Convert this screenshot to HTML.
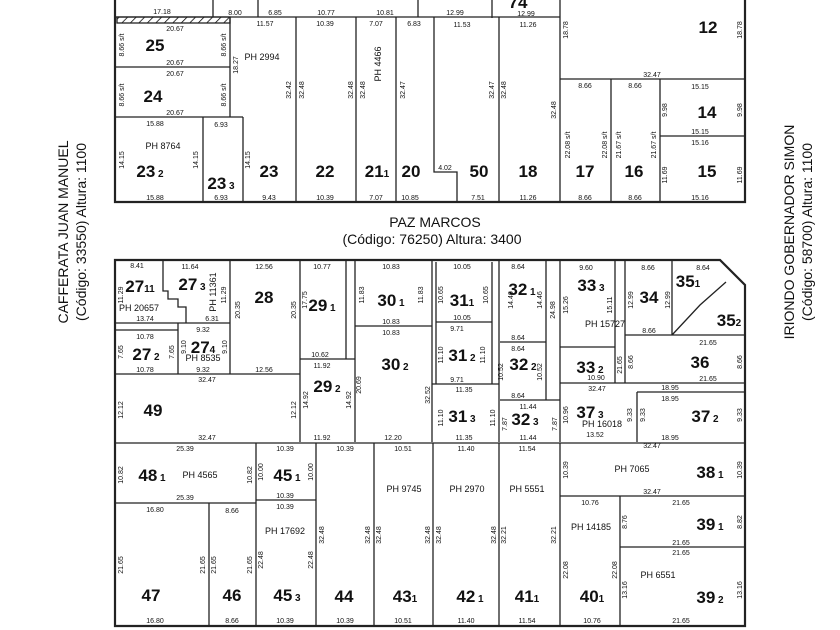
<!DOCTYPE html>
<html><head><meta charset="utf-8"><style>
html,body{margin:0;padding:0;background:#fff;}
svg{display:block;font-family:"Liberation Sans Narrow","Liberation Sans",sans-serif;}
.b{font-size:17px;font-weight:bold;text-anchor:middle;}
.p{font-size:9px;text-anchor:middle;}
.d{font-size:7px;text-anchor:middle;}
.s{font-size:14px;text-anchor:middle;}
</style></head><body>
<svg width="840" height="630" viewBox="0 0 840 630" xmlns="http://www.w3.org/2000/svg">
<defs><pattern id="h" width="6" height="6" patternUnits="userSpaceOnUse" patternTransform="rotate(45)"><line x1="0" y1="0" x2="0" y2="6" stroke="#000" stroke-width="1.5"/></pattern></defs>
<g stroke="#222" stroke-width="1.3" fill="none">
<path d="M115 0V202H745V0" stroke-width="2.2"/>
<path d="M115 17H560M213 0V17M258 0V17M418 0V17M492 0V18M560 0V202"/>
<rect x="117" y="17" width="113" height="6" fill="url(#h)" stroke="#222"/>
<path d="M115 67H230M115 117H243M230 17V117M203 117V202M243 117V202M296 17V202M356 17V202M396 17V202M434 17V172H457V202M499 17V202"/>
<path d="M560 79H745M611 79V202M660 79V202M660 136H745"/>
<path d="M115 260H720L745 285V626H115Z" stroke-width="2.2"/>
<path d="M163 260V291H168V299H178V307H186V323M115 323H230M230 260V374M115 330H178M178 323V374M115 374H300M300 260V442M346 260V359M300 359H355M355 260V442M355 326H432M432 260V442"/>
<path d="M436 262V322H492M436 322V384M432 384H499M492 262V384M499 260V442M500 342H546M500 400H560M546 260V400M560 260V442"/>
<path d="M560 347H615V262M615 260V383M625 260V383M560 383H745M625 335H745M672 260V335M672 335L700 305L726 282M637 392H745M637 392V442"/>
<path d="M115 443H745M256 443V626M115 503H256M256 500H316M209 503V626M316 443V626M374 443V626M433 443V626M499 443V626M560 443V626M560 496H745M620 496V626M620 547H745"/>
</g>
<g fill="#111">
<text class="s" x="435" y="227">PAZ MARCOS</text>
<text class="s" x="432" y="244">(Código: 76250) Altura: 3400</text>
<text class="s" transform="translate(68,232) rotate(-90)">CAFFERATA JUAN MANUEL</text>
<text class="s" transform="translate(86,232) rotate(-90)">(Código: 33550) Altura: 1100</text>
<text class="s" transform="translate(794,232) rotate(-90)">IRIONDO GOBERNADOR SIMON</text>
<text class="s" transform="translate(812,232) rotate(-90)">(Código: 58700) Altura: 1100</text>
<text class="b" x="155" y="51">25</text><text class="b" x="153" y="102">24</text>
<text class="b" x="150" y="177">23<tspan font-size="10"> 2</tspan></text>
<text class="b" x="221" y="189">23<tspan font-size="10"> 3</tspan></text>
<text class="b" x="269" y="177">23</text><text class="b" x="325" y="177">22</text>
<text class="b" x="377" y="177">21<tspan font-size="10">1</tspan></text>
<text class="b" x="411" y="177">20</text><text class="b" x="479" y="177">50</text>
<text class="b" x="528" y="177">18</text><text class="b" x="708" y="33">12</text>
<text class="b" x="707" y="118">14</text><text class="b" x="707" y="177">15</text>
<text class="b" x="585" y="177">17</text><text class="b" x="634" y="177">16</text>
<text class="b" x="518" y="8">74</text>
<text class="p" x="262" y="60">PH 2994</text><text class="p" x="163" y="149">PH 8764</text>
<text class="p" transform="translate(381,64) rotate(-90)">PH 4466</text>
<text class="d" x="162" y="14">17.18</text><text class="d" x="235" y="15">8.00</text><text class="d" x="275" y="15">6.85</text><text class="d" x="326" y="15">10.77</text><text class="d" x="385" y="15">10.81</text><text class="d" x="455" y="15">12.99</text><text class="d" x="526" y="16">12.99</text>
<text class="d" x="175" y="31">20.67</text><text class="d" x="175" y="65">20.67</text><text class="d" x="175" y="76">20.67</text><text class="d" x="175" y="115">20.67</text>
<text class="d" x="265" y="26">11.57</text><text class="d" x="325" y="26">10.39</text><text class="d" x="376" y="26">7.07</text><text class="d" x="414" y="26">6.83</text><text class="d" x="462" y="27">11.53</text><text class="d" x="528" y="27">11.26</text>
<text class="d" x="155" y="126">15.88</text><text class="d" x="155" y="200">15.88</text><text class="d" x="221" y="127">6.93</text><text class="d" x="221" y="200">6.93</text>
<text class="d" x="269" y="200">9.43</text><text class="d" x="325" y="200">10.39</text><text class="d" x="376" y="200">7.07</text><text class="d" x="410" y="200">10.85</text><text class="d" x="478" y="200">7.51</text><text class="d" x="528" y="200">11.26</text>
<text class="d" x="652" y="77">32.47</text><text class="d" x="585" y="88">8.66</text><text class="d" x="635" y="88">8.66</text><text class="d" x="700" y="89">15.15</text><text class="d" x="700" y="134">15.15</text><text class="d" x="700" y="145">15.16</text><text class="d" x="585" y="200">8.66</text><text class="d" x="635" y="200">8.66</text><text class="d" x="700" y="200">15.16</text>
<text class="d" x="445" y="170">4.02</text>
<text class="d" transform="translate(291,90) rotate(-90)">32.42</text><text class="d" transform="translate(304,90) rotate(-90)">32.48</text><text class="d" transform="translate(353,90) rotate(-90)">32.48</text><text class="d" transform="translate(365,90) rotate(-90)">32.48</text><text class="d" transform="translate(405,90) rotate(-90)">32.47</text><text class="d" transform="translate(494,90) rotate(-90)">32.47</text><text class="d" transform="translate(506,90) rotate(-90)">32.48</text><text class="d" transform="translate(556,110) rotate(-90)">32.48</text>
<text class="d" transform="translate(124,45) rotate(-90)">8.66 s/t</text><text class="d" transform="translate(226,45) rotate(-90)">8.66 s/t</text><text class="d" transform="translate(124,95) rotate(-90)">8.66 s/t</text><text class="d" transform="translate(226,95) rotate(-90)">8.66 s/t</text><text class="d" transform="translate(238,65) rotate(-90)">18.27</text>
<text class="d" transform="translate(124,160) rotate(-90)">14.15</text><text class="d" transform="translate(198,160) rotate(-90)">14.15</text><text class="d" transform="translate(250,160) rotate(-90)">14.15</text>
<text class="d" transform="translate(568,30) rotate(-90)">18.78</text><text class="d" transform="translate(742,30) rotate(-90)">18.78</text><text class="d" transform="translate(570,145) rotate(-90)">22.08 s/t</text><text class="d" transform="translate(607,145) rotate(-90)">22.08 s/t</text><text class="d" transform="translate(621,145) rotate(-90)">21.67 s/t</text><text class="d" transform="translate(656,145) rotate(-90)">21.67 s/t</text>
<text class="d" transform="translate(667,110) rotate(-90)">9.98</text><text class="d" transform="translate(742,110) rotate(-90)">9.98</text><text class="d" transform="translate(667,175) rotate(-90)">11.69</text><text class="d" transform="translate(742,175) rotate(-90)">11.69</text>
<text class="b" x="140" y="292">27<tspan font-size="10">11</tspan></text>
<text class="b" x="192" y="290">27<tspan font-size="10"> 3</tspan></text>
<text class="b" x="264" y="303">28</text>
<text class="b" x="322" y="311">29<tspan font-size="10"> 1</tspan></text>
<text class="b" x="391" y="306">30<tspan font-size="10"> 1</tspan></text>
<text class="b" x="462" y="306">31<tspan font-size="10">1</tspan></text>
<text class="b" x="522" y="295">32<tspan font-size="10"> 1</tspan></text>
<text class="b" x="591" y="291">33<tspan font-size="10"> 3</tspan></text>
<text class="b" x="649" y="303">34</text>
<text class="b" x="688" y="287">35<tspan font-size="10">1</tspan></text>
<text class="b" x="729" y="326">35<tspan font-size="10">2</tspan></text>
<text class="b" x="146" y="360">27<tspan font-size="10"> 2</tspan></text>
<text class="b" x="203" y="353">27<tspan font-size="10">4</tspan></text>
<text class="b" x="327" y="392">29<tspan font-size="10"> 2</tspan></text>
<text class="b" x="395" y="370">30<tspan font-size="10"> 2</tspan></text>
<text class="b" x="462" y="361">31<tspan font-size="10"> 2</tspan></text>
<text class="b" x="523" y="370">32<tspan font-size="10"> 2</tspan></text>
<text class="b" x="590" y="373">33<tspan font-size="10"> 2</tspan></text>
<text class="b" x="700" y="368">36</text>
<text class="b" x="153" y="416">49</text>
<text class="b" x="462" y="422">31<tspan font-size="10"> 3</tspan></text>
<text class="b" x="525" y="425">32<tspan font-size="10"> 3</tspan></text>
<text class="b" x="590" y="418">37<tspan font-size="10"> 3</tspan></text>
<text class="b" x="705" y="422">37<tspan font-size="10"> 2</tspan></text>
<text class="b" x="152" y="481">48<tspan font-size="10"> 1</tspan></text>
<text class="b" x="287" y="481">45<tspan font-size="10"> 1</tspan></text>
<text class="b" x="710" y="478">38<tspan font-size="10"> 1</tspan></text>
<text class="b" x="710" y="530">39<tspan font-size="10"> 1</tspan></text>
<text class="b" x="151" y="601">47</text><text class="b" x="232" y="601">46</text>
<text class="b" x="287" y="601">45<tspan font-size="10"> 3</tspan></text>
<text class="b" x="344" y="602">44</text>
<text class="b" x="405" y="602">43<tspan font-size="10">1</tspan></text>
<text class="b" x="470" y="602">42<tspan font-size="10"> 1</tspan></text>
<text class="b" x="527" y="602">41<tspan font-size="10">1</tspan></text>
<text class="b" x="592" y="602">40<tspan font-size="10">1</tspan></text>
<text class="b" x="710" y="603">39<tspan font-size="10"> 2</tspan></text>
<text class="p" x="139" y="311">PH 20657</text><text class="p" transform="translate(216,292) rotate(-90)">PH 11361</text><text class="p" x="203" y="361">PH 8535</text>
<text class="p" x="605" y="327">PH 15727</text><text class="p" x="602" y="427">PH 16018</text><text class="p" x="200" y="478">PH 4565</text>
<text class="p" x="404" y="492">PH 9745</text><text class="p" x="467" y="492">PH 2970</text><text class="p" x="527" y="492">PH 5551</text><text class="p" x="632" y="472">PH 7065</text>
<text class="p" x="285" y="534">PH 17692</text><text class="p" x="591" y="530">PH 14185</text><text class="p" x="658" y="578">PH 6551</text>
<text class="d" x="137" y="268">8.41</text><text class="d" x="190" y="269">11.64</text><text class="d" x="264" y="269">12.56</text><text class="d" x="322" y="269">10.77</text><text class="d" x="391" y="269">10.83</text><text class="d" x="462" y="269">10.05</text><text class="d" x="518" y="269">8.64</text><text class="d" x="586" y="270">9.60</text><text class="d" x="648" y="270">8.66</text><text class="d" x="703" y="270">8.64</text>
<text class="d" x="145" y="321">13.74</text><text class="d" x="212" y="321">6.31</text><text class="d" x="145" y="339">10.78</text><text class="d" x="145" y="372">10.78</text><text class="d" x="203" y="332">9.32</text><text class="d" x="203" y="372">9.32</text><text class="d" x="264" y="372">12.56</text>
<text class="d" x="320" y="357">10.62</text><text class="d" x="322" y="368">11.92</text><text class="d" x="391" y="324">10.83</text><text class="d" x="391" y="335">10.83</text><text class="d" x="462" y="320">10.05</text><text class="d" x="457" y="331">9.71</text><text class="d" x="457" y="382">9.71</text><text class="d" x="518" y="340">8.64</text><text class="d" x="518" y="351">8.64</text><text class="d" x="518" y="398">8.64</text>
<text class="d" x="708" y="345">21.65</text><text class="d" x="708" y="381">21.65</text><text class="d" x="649" y="333">8.66</text><text class="d" x="596" y="380">10.90</text>
<text class="d" x="207" y="382">32.47</text><text class="d" x="207" y="440">32.47</text><text class="d" x="322" y="440">11.92</text><text class="d" x="393" y="440">12.20</text><text class="d" x="464" y="392">11.35</text><text class="d" x="464" y="440">11.35</text><text class="d" x="528" y="409">11.44</text><text class="d" x="528" y="440">11.44</text>
<text class="d" x="597" y="391">32.47</text><text class="d" x="670" y="390">18.95</text><text class="d" x="670" y="401">18.95</text><text class="d" x="670" y="440">18.95</text><text class="d" x="595" y="437">13.52</text>
<text class="d" x="185" y="451">25.39</text><text class="d" x="185" y="500">25.39</text><text class="d" x="285" y="451">10.39</text><text class="d" x="285" y="498">10.39</text><text class="d" x="285" y="509">10.39</text><text class="d" x="345" y="451">10.39</text><text class="d" x="403" y="451">10.51</text><text class="d" x="466" y="451">11.40</text><text class="d" x="527" y="451">11.54</text><text class="d" x="652" y="448">32.47</text><text class="d" x="652" y="494">32.47</text>
<text class="d" x="155" y="512">16.80</text><text class="d" x="232" y="513">8.66</text><text class="d" x="590" y="505">10.76</text><text class="d" x="681" y="505">21.65</text><text class="d" x="681" y="545">21.65</text><text class="d" x="681" y="555">21.65</text>
<text class="d" x="155" y="623">16.80</text><text class="d" x="232" y="623">8.66</text><text class="d" x="285" y="623">10.39</text><text class="d" x="345" y="623">10.39</text><text class="d" x="403" y="623">10.51</text><text class="d" x="466" y="623">11.40</text><text class="d" x="527" y="623">11.54</text><text class="d" x="592" y="623">10.76</text><text class="d" x="681" y="623">21.65</text>
<text class="d" transform="translate(123,295) rotate(-90)">11.29</text><text class="d" transform="translate(226,295) rotate(-90)">11.29</text><text class="d" transform="translate(123,352) rotate(-90)">7.65</text><text class="d" transform="translate(174,352) rotate(-90)">7.65</text><text class="d" transform="translate(186,347) rotate(-90)">9.10</text><text class="d" transform="translate(227,347) rotate(-90)">9.10</text>
<text class="d" transform="translate(240,310) rotate(-90)">20.35</text><text class="d" transform="translate(296,310) rotate(-90)">20.35</text><text class="d" transform="translate(307,300) rotate(-90)">17.75</text><text class="d" transform="translate(364,295) rotate(-90)">11.83</text><text class="d" transform="translate(423,295) rotate(-90)">11.83</text><text class="d" transform="translate(361,385) rotate(-90)">20.69</text><text class="d" transform="translate(430,395) rotate(-90)">32.52</text>
<text class="d" transform="translate(308,400) rotate(-90)">14.92</text><text class="d" transform="translate(351,400) rotate(-90)">14.92</text><text class="d" transform="translate(123,410) rotate(-90)">12.12</text><text class="d" transform="translate(296,410) rotate(-90)">12.12</text>
<text class="d" transform="translate(443,295) rotate(-90)">10.65</text><text class="d" transform="translate(488,295) rotate(-90)">10.65</text><text class="d" transform="translate(443,355) rotate(-90)">11.10</text><text class="d" transform="translate(485,355) rotate(-90)">11.10</text><text class="d" transform="translate(443,418) rotate(-90)">11.10</text><text class="d" transform="translate(495,418) rotate(-90)">11.10</text>
<text class="d" transform="translate(513,300) rotate(-90)">14.46</text><text class="d" transform="translate(542,300) rotate(-90)">14.46</text><text class="d" transform="translate(503,372) rotate(-90)">10.52</text><text class="d" transform="translate(542,372) rotate(-90)">10.52</text><text class="d" transform="translate(507,424) rotate(-90)">7.87</text><text class="d" transform="translate(557,424) rotate(-90)">7.87</text><text class="d" transform="translate(555,310) rotate(-90)">24.98</text>
<text class="d" transform="translate(568,305) rotate(-90)">15.26</text><text class="d" transform="translate(612,305) rotate(-90)">15.11</text><text class="d" transform="translate(633,300) rotate(-90)">12.99</text><text class="d" transform="translate(670,300) rotate(-90)">12.99</text><text class="d" transform="translate(633,362) rotate(-90)">8.66</text><text class="d" transform="translate(742,362) rotate(-90)">8.66</text><text class="d" transform="translate(622,365) rotate(-90)">21.65</text>
<text class="d" transform="translate(568,415) rotate(-90)">10.96</text><text class="d" transform="translate(632,415) rotate(-90)">9.33</text><text class="d" transform="translate(645,415) rotate(-90)">9.33</text><text class="d" transform="translate(742,415) rotate(-90)">9.33</text>
<text class="d" transform="translate(123,475) rotate(-90)">10.82</text><text class="d" transform="translate(252,475) rotate(-90)">10.82</text><text class="d" transform="translate(263,472) rotate(-90)">10.00</text><text class="d" transform="translate(313,472) rotate(-90)">10.00</text><text class="d" transform="translate(568,470) rotate(-90)">10.39</text><text class="d" transform="translate(742,470) rotate(-90)">10.39</text>
<text class="d" transform="translate(123,565) rotate(-90)">21.65</text><text class="d" transform="translate(205,565) rotate(-90)">21.65</text><text class="d" transform="translate(216,565) rotate(-90)">21.65</text><text class="d" transform="translate(252,565) rotate(-90)">21.65</text><text class="d" transform="translate(263,560) rotate(-90)">22.48</text><text class="d" transform="translate(313,560) rotate(-90)">22.48</text>
<text class="d" transform="translate(324,535) rotate(-90)">32.48</text><text class="d" transform="translate(370,535) rotate(-90)">32.48</text><text class="d" transform="translate(381,535) rotate(-90)">32.48</text><text class="d" transform="translate(430,535) rotate(-90)">32.48</text><text class="d" transform="translate(441,535) rotate(-90)">32.48</text><text class="d" transform="translate(496,535) rotate(-90)">32.48</text><text class="d" transform="translate(506,535) rotate(-90)">32.21</text><text class="d" transform="translate(556,535) rotate(-90)">32.21</text>
<text class="d" transform="translate(568,570) rotate(-90)">22.08</text><text class="d" transform="translate(617,570) rotate(-90)">22.08</text><text class="d" transform="translate(627,522) rotate(-90)">8.76</text><text class="d" transform="translate(742,522) rotate(-90)">8.82</text><text class="d" transform="translate(627,590) rotate(-90)">13.16</text><text class="d" transform="translate(742,590) rotate(-90)">13.16</text>
</g>
</svg>
</body></html>
